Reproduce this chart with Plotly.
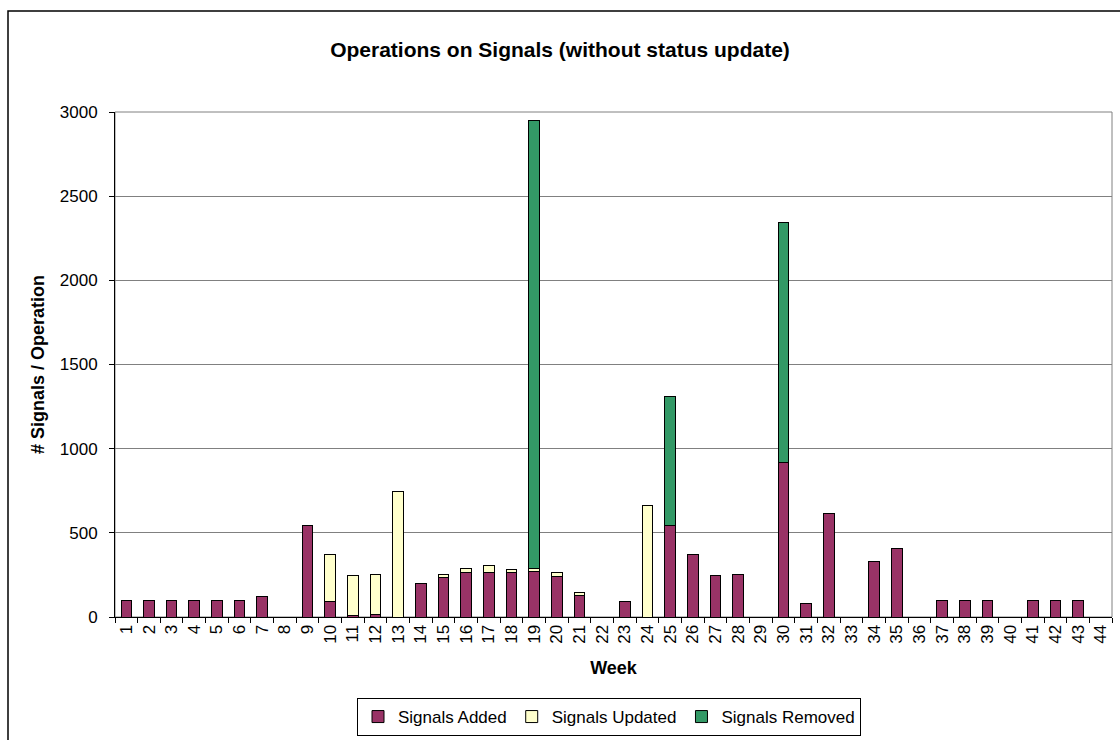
import plotly.graph_objects as go

weeks = [str(i) for i in range(1, 45)]
signals_added = [100, 100, 100, 100, 100, 100, 120, 0, 545, 95,
                 8, 15, 0, 200, 232, 265, 265, 265, 271, 240,
                 129, 0, 95, 0, 543, 370, 244, 251, 0, 917,
                 79, 614, 0, 329, 406, 0, 100, 100, 100, 0,
                 100, 100, 100, 0]
signals_updated = [0, 0, 0, 0, 0, 0, 0, 0, 0, 275,
                   236, 236, 745, 0, 19, 25, 40, 20, 20, 25,
                   18, 0, 0, 664, 0, 0, 0, 0, 0, 0,
                   0, 0, 0, 0, 0, 0, 0, 0, 0, 0,
                   0, 0, 0, 0]
signals_removed = [0] * 18 + [2659] + [0] * 5 + [765] + [0] * 4 + [1424] + [0] * 14

def nz(vals):
    return [v if v else None for v in vals]

FONT = "Arial, Liberation Sans, sans-serif"
fig = go.Figure()
series = [("Signals Added", signals_added, "#993366"),
          ("Signals Updated", signals_updated, "#FFFFCC"),
          ("Signals Removed", signals_removed, "#339966")]
for name, vals, col in series:
    fig.add_trace(go.Bar(x=weeks, y=nz(vals), name=name,
                         marker=dict(color=col, line=dict(color="black", width=1))))

fig.update_layout(
    width=1120, height=740,
    barmode="stack", bargap=0.53,
    paper_bgcolor="white", plot_bgcolor="white",
    margin=dict(l=115, r=8, t=112, b=123),
    font=dict(family=FONT, size=17, color="black"),
    title=dict(text="<b>Operations on Signals (without status update)</b>",
               x=0.5, xanchor="center", y=1 - 50 / 740, yanchor="middle",
               font=dict(size=21, family=FONT)),
    showlegend=True,
    legend=dict(orientation="h", xref="container", yref="container",
                x=609 / 1120, xanchor="center", y=1 - 698 / 740, yanchor="top",
                bordercolor="black", borderwidth=1, font=dict(size=17, family=FONT),
                itemwidth=30, traceorder="normal", tracegroupgap=0),
    xaxis=dict(type="category", tickangle=-90, ticks="outside", ticklen=5,
               tickson="boundaries", showline=True, linecolor="black", linewidth=1,
               tickcolor="black", tickfont=dict(size=17), automargin=False,
               title=dict(text="<b>Week</b>", standoff=18, font=dict(size=18, family=FONT)),
               showgrid=False),
    yaxis=dict(range=[0, 3000], dtick=500, ticks="outside", ticklen=5,
               showline=True, linecolor="black", linewidth=1, tickcolor="black",
               tickfont=dict(size=17), automargin=False, ticklabelstandoff=8,
               showgrid=True, gridcolor="#808080", gridwidth=1, zeroline=False,
               title=dict(text="<b># Signals / Operation</b>", standoff=10,
                          font=dict(size=18, family=FONT))),
    shapes=[
        dict(type="rect", xref="paper", yref="paper", x0=0, x1=1, y0=0, y1=1,
             line=dict(color="#808080", width=1), layer="below"),
        dict(type="rect", xref="paper", yref="paper",
             x0=(8 - 115) / 997, x1=(1130 - 115) / 997,
             y0=(617 - 750) / 505, y1=(617 - 11) / 505,
             line=dict(color="black", width=1.5), layer="below"),
    ],
)

fig.write_html("out.html")
